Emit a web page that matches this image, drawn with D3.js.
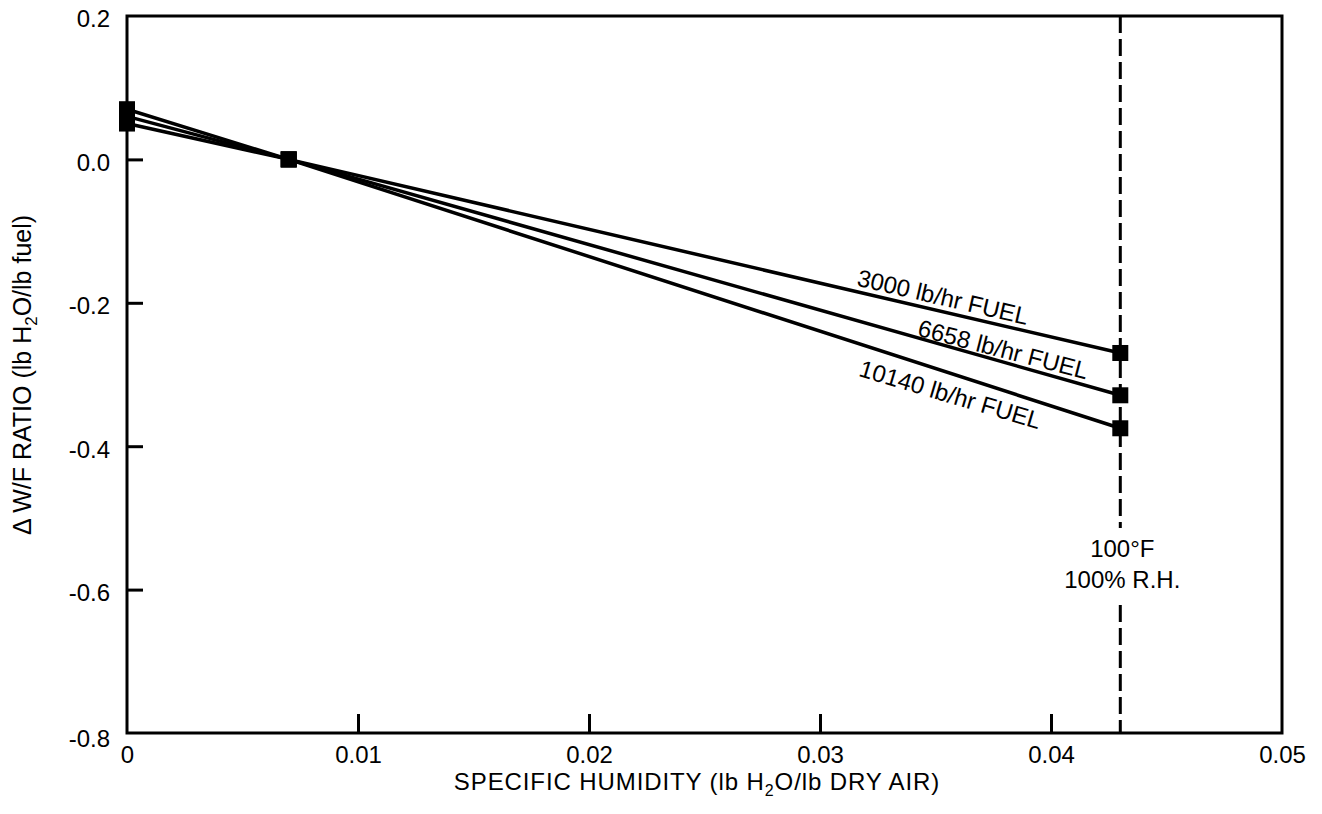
<!DOCTYPE html>
<html>
<head>
<meta charset="utf-8">
<script src="https://cdn.jsdelivr.net/npm/d3@7"></script>
<style>
  body { margin: 0; background: #fff; }
  svg { font-family: "Liberation Sans", Arial, Helvetica, sans-serif; }
</style>
</head>
<body>
<div id="chart"></div>
<script>
// humidity points (lb H2O / lb dry air)
const humidity = [0, 0.007, 0.043]
// delta W/F ratio for each fuel flow
const fuelFlows = ["3000 lb/hr FUEL", "6658 lb/hr FUEL", "10140 lb/hr FUEL"]
const deltaWF = [
  [0.05, 0.0, -0.27],
  [0.06, 0.0, -0.329],
  [0.07, 0.0, -0.375]
]
const xTicks = [0, 0.01, 0.02, 0.03, 0.04, 0.05]
const yTicks = [0.2, 0.0, -0.2, -0.4, -0.6, -0.8]
const refHumidity = 0.043

let width = 1322,
  height = 814,
  mLeft = 127, mRight = 1282, mTop = 16, mBottom = 733,
  fs = 24

let x = d3.scaleLinear().domain([0, 0.05]).range([mLeft, mRight])
let y = d3.scaleLinear().domain([-0.8, 0.2]).range([mBottom, mTop])

let svg = d3.select("#chart").append("svg")
  .attr("width", width)
  .attr("height", height)

// frame
svg.append("rect")
  .attr("x", mLeft).attr("y", mTop)
  .attr("width", mRight - mLeft).attr("height", mBottom - mTop)
  .attr("fill", "none").attr("stroke", "#000").attr("stroke-width", 3)

// x axis ticks (inward)
let xAxis = d3.axisBottom(x).tickValues(xTicks)
  .tickSizeInner(-19).tickSizeOuter(0).tickPadding(13)
  .tickFormat(d => d === 0 ? "0" : d3.format(".2f")(d))
svg.append("g").attr("transform", `translate(0,${mBottom})`).call(xAxis)
  .attr("font-family", null).attr("font-size", fs)
  .call(g => g.select(".domain").remove())
  .call(g => g.selectAll(".tick line").attr("stroke-width", 3)
    .filter(d => d === 0 || d === 0.05).remove())
  .call(g => g.selectAll("text").attr("fill", "#000"))

// y axis ticks (inward), plain hyphen for minus
let yAxis = d3.axisLeft(y).tickValues(yTicks)
  .tickSizeInner(-16).tickSizeOuter(0).tickPadding(17)
  .tickFormat(d => d3.format(".1f")(d).replace("\u2212", "-"))
svg.append("g").attr("transform", `translate(${mLeft},0)`).call(yAxis)
  .attr("font-family", null).attr("font-size", fs)
  .call(g => g.select(".domain").remove())
  .call(g => g.selectAll(".tick line").attr("stroke-width", 3)
    .filter(d => d === 0.2 || d === -0.8).remove())
  .call(g => g.selectAll("text").attr("fill", "#000").attr("dy", "0.45em"))
  .call(g => g.selectAll(".tick").filter(d => d === -0.8).select("text").attr("dy", "0.55em"))

// reference dashed line with label gap
let rx = x(refHumidity)
svg.append("line")
  .attr("x1", rx).attr("x2", rx).attr("y1", mTop).attr("y2", 528)
  .attr("stroke", "#000").attr("stroke-width", 3).attr("stroke-dasharray", "17,6")
svg.append("line")
  .attr("x1", rx).attr("x2", rx).attr("y1", 605).attr("y2", mBottom)
  .attr("stroke", "#000").attr("stroke-width", 3).attr("stroke-dasharray", "17,6")
svg.append("text").attr("x", rx + 2).attr("y", 557).attr("text-anchor", "middle")
  .attr("font-size", fs).text("100°F")
svg.append("text").attr("x", rx + 2).attr("y", 588).attr("text-anchor", "middle")
  .attr("font-size", fs).text("100% R.H.")

// series lines
let line = d3.line().x((d, i) => x(humidity[i])).y(d => y(d))
svg.selectAll("path.series")
  .data(deltaWF)
  .enter().append("path")
  .attr("class", "series")
  .attr("d", line)
  .attr("fill", "none").attr("stroke", "#000").attr("stroke-width", 3.5)

// markers
let ms = 16
deltaWF.forEach(s => {
  svg.selectAll(null)
    .data(s)
    .enter().append("rect")
    .attr("x", (d, i) => x(humidity[i]) - ms / 2)
    .attr("y", d => y(d) - ms / 2)
    .attr("width", ms).attr("height", ms)
    .attr("fill", "#000")
})

// series labels placed along lines
let labelPos = [
  { hx: 0.03524, off: -6, rot: 13 },
  { hx: 0.03784, off: -4, rot: 14.5 },
  { hx: 0.03554, off: 30, rot: 16.5 }
]
deltaWF.forEach((s, k) => {
  let p = labelPos[k]
  let t = (p.hx - humidity[1]) / (humidity[2] - humidity[1])
  let v = s[1] + t * (s[2] - s[1])
  svg.append("text")
    .attr("transform", `translate(${x(p.hx)},${y(v) + p.off}) rotate(${p.rot})`)
    .attr("font-size", fs).attr("text-anchor", "middle")
    .text(fuelFlows[k])
})

// axis titles
let xt = svg.append("text").attr("x", 697).attr("y", 790)
  .attr("text-anchor", "middle").attr("font-size", 24).attr("letter-spacing", 0.9)
xt.append("tspan").text("SPECIFIC HUMIDITY (lb H")
xt.append("tspan").attr("font-size", 16).attr("dy", 6).text("2")
xt.append("tspan").attr("dy", -6).text("O/lb DRY AIR)")

let yt = svg.append("text").attr("transform", "translate(31,375) rotate(-90)")
  .attr("text-anchor", "middle").attr("font-size", 25)
yt.append("tspan").text("\u0394 W/F RATIO (lb H")
yt.append("tspan").attr("font-size", 17).attr("dy", 6).text("2")
yt.append("tspan").attr("dy", -6).text("O/lb fuel)")
</script>
</body>
</html>
